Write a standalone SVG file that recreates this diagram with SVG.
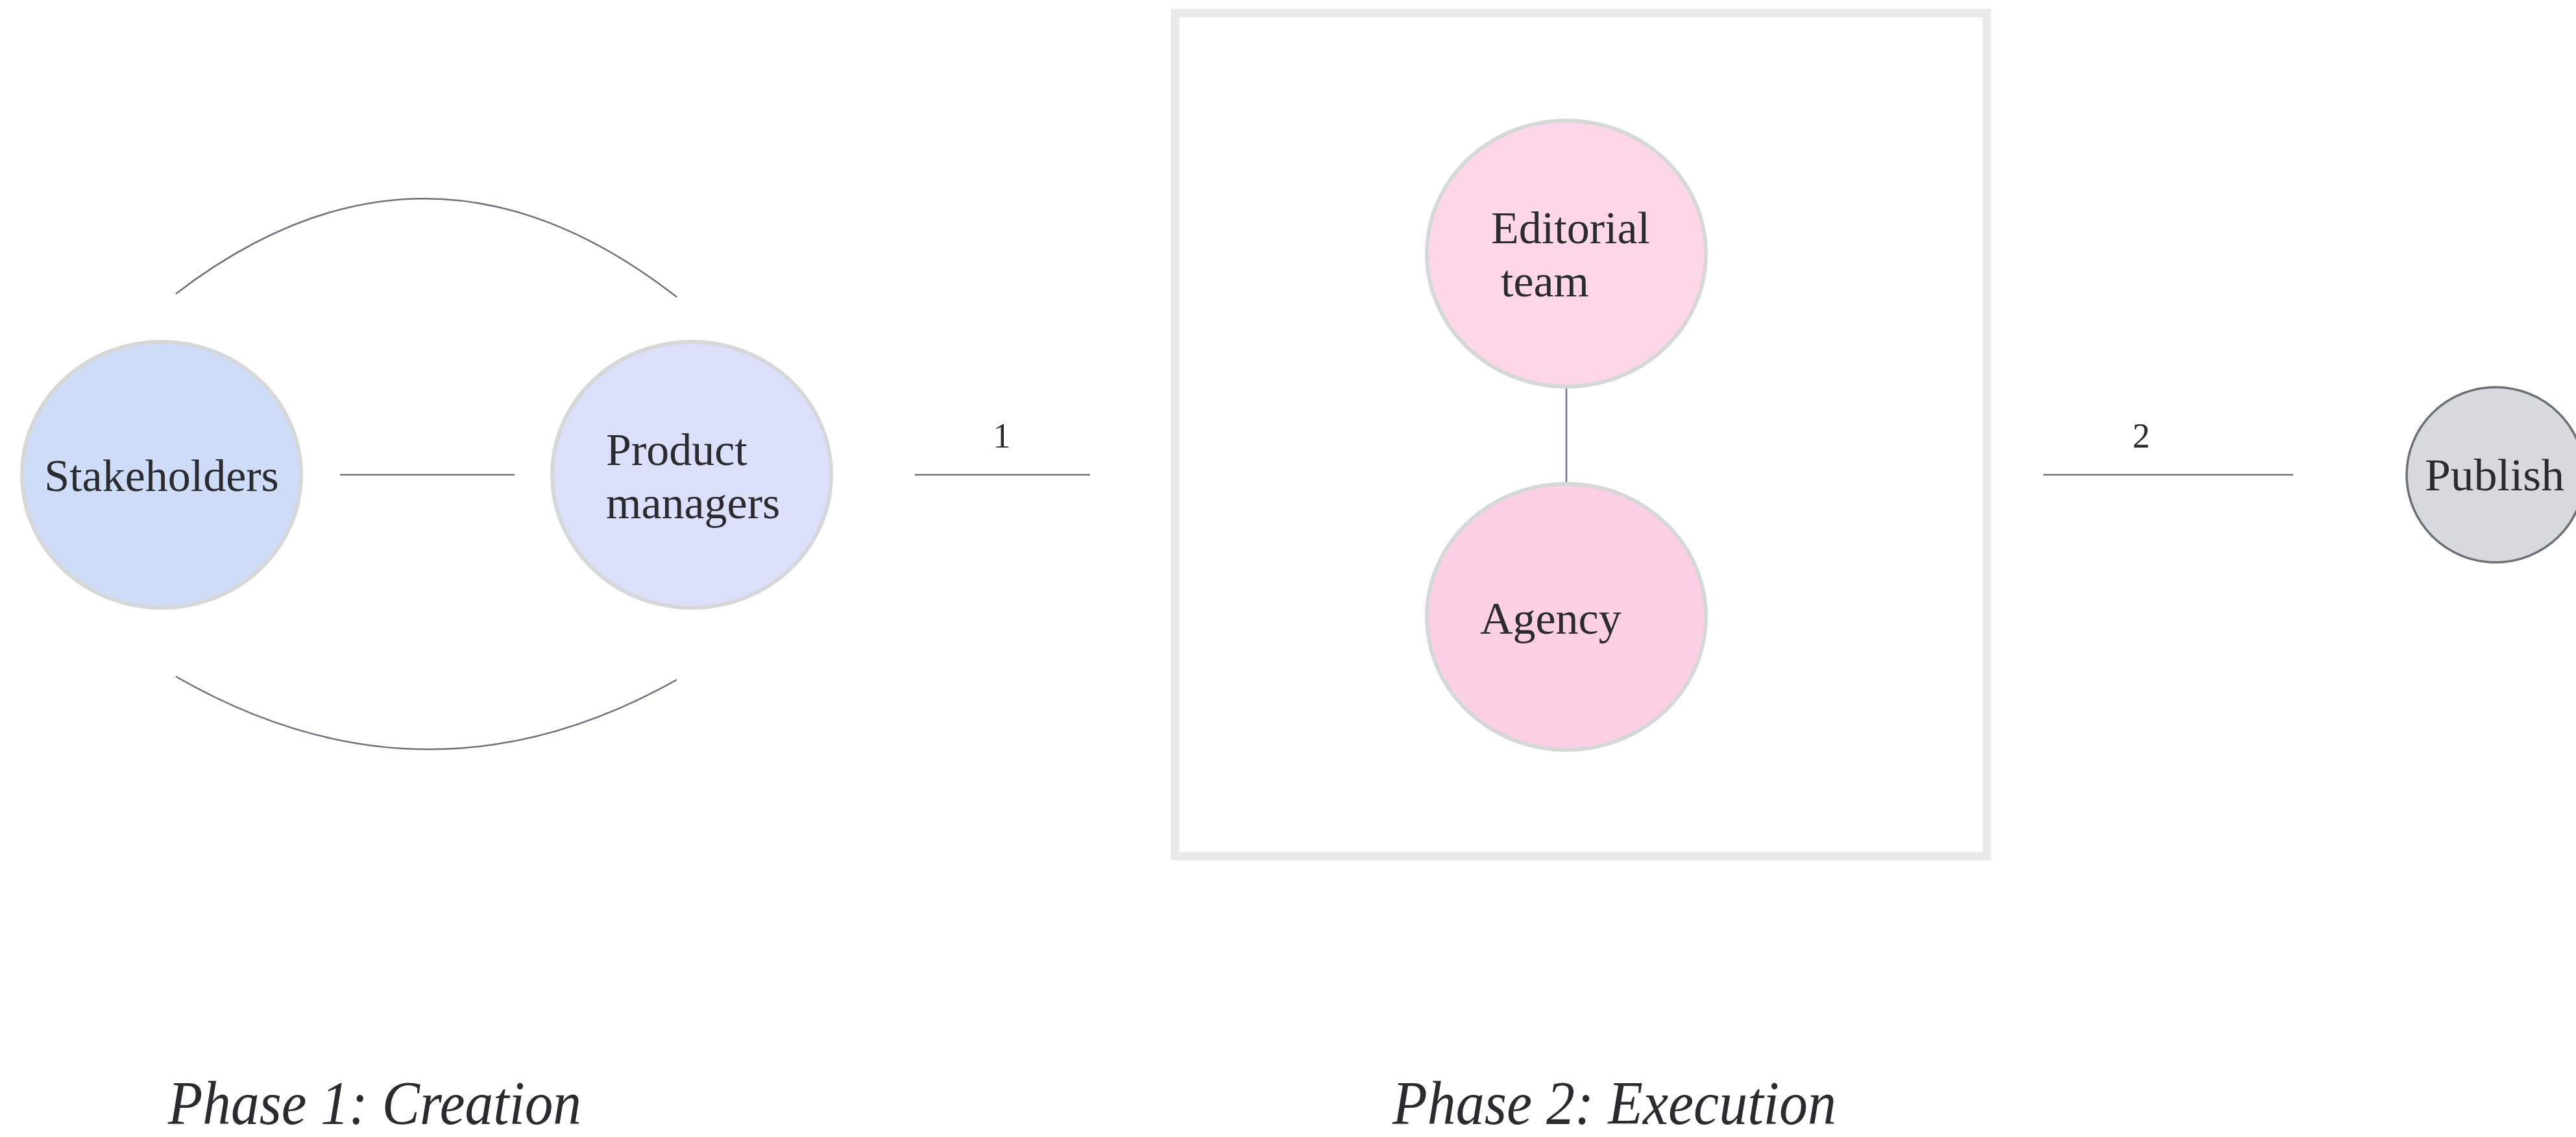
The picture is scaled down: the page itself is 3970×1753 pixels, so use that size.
<svg xmlns="http://www.w3.org/2000/svg" width="3970" height="1753" viewBox="0 0 3970 1753">
<style>
  text { font-family: "Liberation Serif", "DejaVu Serif", serif; fill: #2a2b2e; }
  .lbl { font-size: 70px; }
  .num { font-size: 54px; text-anchor: middle; }
  .phase { font-size: 96px; font-style: italic; }
  .node { stroke: #d5d7d9; stroke-width: 6; }
  .edge { fill: none; stroke: #6b7079; stroke-width: 2.5; }
</style>
<rect width="3970" height="1753" fill="#ffffff"/>
<g id="phase2-box">
  <rect x="1811" y="20" width="1251" height="1300" fill="none" stroke="#e8e9eb" stroke-width="13"/>
</g>
<g id="connectors">
  <path class="edge" d="M271,453 Q657,157 1043,458"/>
  <path class="edge" d="M271,1043 Q657,1265 1043,1048"/>
  <line class="edge" x1="524" y1="732" x2="793" y2="732"/>
  <line class="edge" x1="1410" y1="732" x2="1680" y2="732"/>
  <text class="num" x="1544" y="690">1</text>
  <line class="edge" x1="2414" y1="596" x2="2414" y2="746"/>
  <line class="edge" x1="3149" y1="732" x2="3534" y2="732"/>
  <text class="num" x="3300" y="690">2</text>
</g>
<g id="stakeholders">
  <ellipse class="node" cx="249" cy="732" rx="215" ry="205" fill="#cedcf7"/>
  <text class="lbl" x="249" y="757" text-anchor="middle">Stakeholders</text>
</g>
<g id="product-managers">
  <ellipse class="node" cx="1066" cy="732" rx="215" ry="205" fill="#dcdff9"/>
  <text class="lbl" x="934" y="717">Product</text>
  <text class="lbl" x="934" y="799">managers</text>
</g>
<g id="editorial-team">
  <ellipse class="node" cx="2414" cy="391" rx="215" ry="205" fill="#fdd7e7"/>
  <text class="lbl" x="2298" y="375">Editorial</text>
  <text class="lbl" x="2313" y="457">team</text>
</g>
<g id="agency">
  <ellipse class="node" cx="2414" cy="951" rx="215" ry="205" fill="#fdcfe4"/>
  <text class="lbl" x="2281" y="977">Agency</text>
</g>
<g id="publish">
  <ellipse cx="3846" cy="732" rx="137" ry="135" fill="#d6d9dd" stroke="#6b7075" stroke-width="3.5"/>
  <text class="lbl" x="3737" y="756" textLength="215" lengthAdjust="spacingAndGlyphs">Publish</text>
</g>
<g id="phase-labels">
  <text class="phase" x="259" y="1733" textLength="637" lengthAdjust="spacingAndGlyphs">Phase 1: Creation</text>
  <text class="phase" x="2146" y="1733" textLength="684" lengthAdjust="spacingAndGlyphs">Phase 2: Execution</text>
</g>
</svg>
